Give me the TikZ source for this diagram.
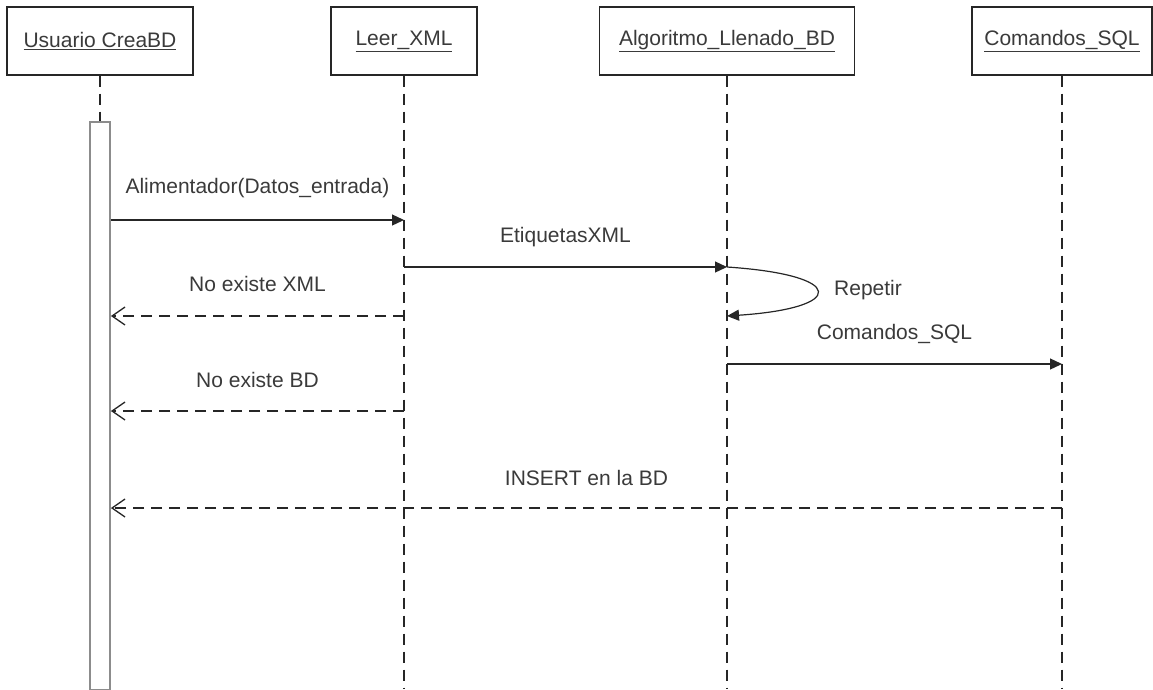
\documentclass[tikz,border=0pt]{standalone}
\usepackage{fontspec}
\setmainfont{Liberation Sans}
\usetikzlibrary{arrows.meta}
\definecolor{ink}{HTML}{262626}
\definecolor{txt}{HTML}{3A3A3A}
\definecolor{bar}{HTML}{8C8C8C}
\tikzset{
  obj/.style={draw=ink, line width=1.3pt, fill=white, minimum height=68pt, inner sep=0pt, text=txt, font=\fontsize{21}{25}\selectfont},
  life/.style={draw=ink, line width=1.2pt, dash pattern=on 11pt off 7pt},
  act/.style={draw=bar, line width=1.8pt, fill=white, minimum width=20pt, inner sep=0pt},
  msg/.style={draw=ink, line width=1.2pt, -{Triangle[length=12pt,width=11pt]}},
  ret/.style={draw=ink, line width=1.2pt, dash pattern=on 11pt off 7pt, -{Straight Barb[length=13pt,width=18pt,line width=1.3pt]}},
  lab/.style={text=txt, font=\fontsize{21}{25}\selectfont},
}

\begin{document}
\begin{tikzpicture}[x=1pt, y=-1pt]
\useasboundingbox (0,0) rectangle (1153,689);
% objects
\node[obj, minimum width=186pt] (usr) at (100,41) {\underline{Usuario CreaBD}};
\node[obj, minimum width=146pt] (leer) at (404,41) {\underline{Leer\_XML}};
\node[obj, minimum width=255pt] (algo) at (727,41) {\underline{Algoritmo\_Llenado\_BD}};
\node[obj, minimum width=180pt] (cmd) at (1062,41) {\underline{Comandos\_SQL}};
% lifelines
\coordinate (usrE) at (usr.south |- 0,689);
\coordinate (leerE) at (leer.south |- 0,689);
\coordinate (algoE) at (algo.south |- 0,689);
\coordinate (cmdE) at (cmd.south |- 0,689);
\draw[life] (usr.south) -- (usrE);
\draw[life] (leer.south) -- (leerE);
\draw[life] (algo.south) -- (algoE);
\draw[life] (cmd.south) -- (cmdE);
\node[act, minimum height=568pt] (act) at (100,406) {};
% message points
\coordinate (U1) at (act.east |- 0,220);
\coordinate (U2) at (act.east |- 0,316);
\coordinate (U3) at (act.east |- 0,411);
\coordinate (U4) at (act.east |- 0,508);
\coordinate (L1) at (leer |- 0,220);
\coordinate (L2) at (leer |- 0,267);
\coordinate (L3) at (leer |- 0,316);
\coordinate (L4) at (leer |- 0,411);
\coordinate (A1) at (algo |- 0,267);
\coordinate (A2) at (algo |- 0,316);
\coordinate (A3) at (algo |- 0,364);
\coordinate (C1) at (cmd |- 0,364);
\coordinate (C2) at (cmd |- 0,508);
% messages
\draw[msg] (U1) -- node[lab, yshift=32pt] {Alimentador(Datos\_entrada)} (L1);
\draw[msg] (L2) -- node[lab, yshift=30pt] {EtiquetasXML} (A1);
\draw[ret] (L3) -- node[lab, yshift=32pt] {No existe XML} (U2);
\draw[msg] (A1) .. controls +(120,8) and +(120,-8) .. (A2);
\node[lab] (rep) at (868,290) {Repetir};
\draw[msg] (A3) -- node[lab, yshift=30pt] {Comandos\_SQL} (C1);
\draw[ret] (L4) -- node[lab, yshift=31pt] {No existe BD} (U3);
\draw[ret] (C2) -- node[lab, yshift=30pt] {INSERT en la BD} (U4);
\end{tikzpicture}
\end{document}
